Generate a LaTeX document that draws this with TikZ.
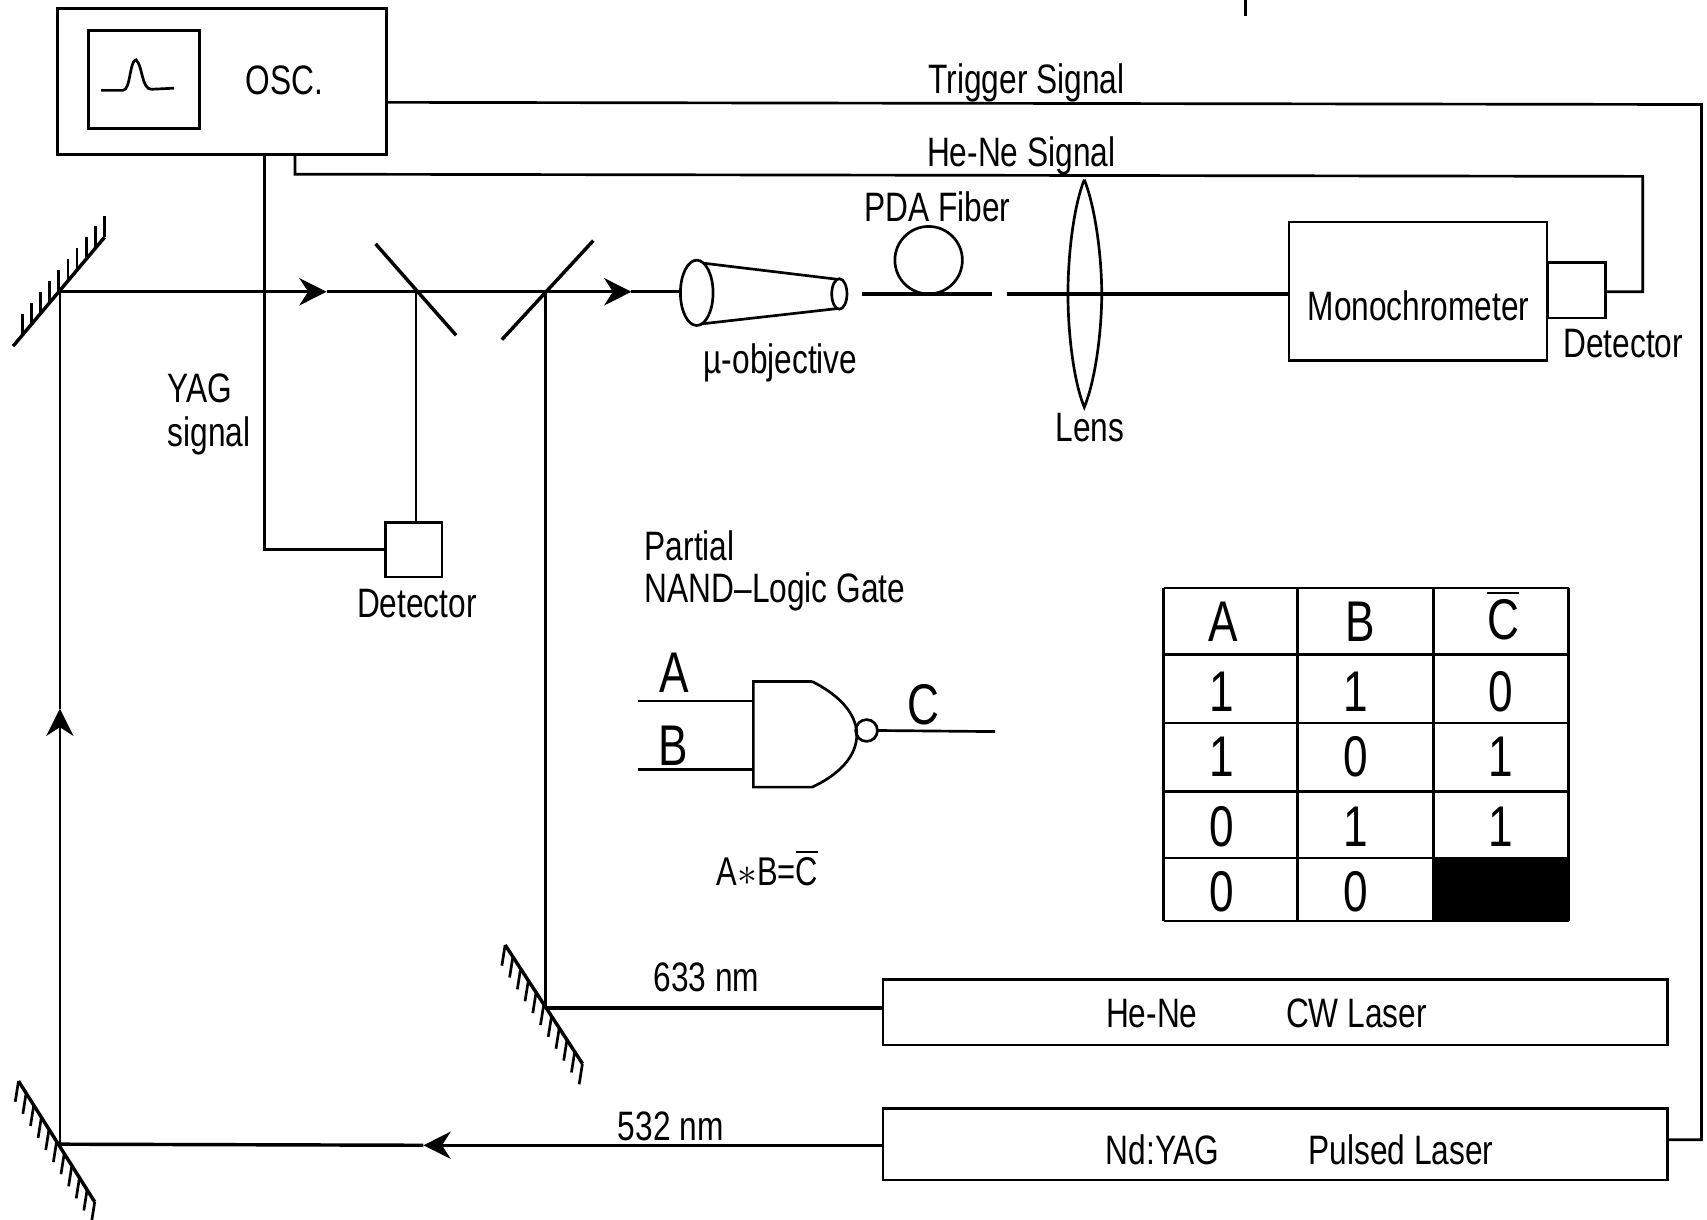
\documentclass[tikz,border=0pt]{standalone}
\usepackage{amsmath}
\usepackage{fontspec}
\setmainfont[FakeStretch=0.77]{Liberation Sans}
\usetikzlibrary{arrows.meta, calc}
\tikzset{
  box/.style={draw, inner sep=0pt, outer sep=0pt},
  lbl/.style={inner sep=0pt, font=\fontsize{21.5}{24}\selectfont},
  biglbl/.style={inner sep=0pt, font=\fontsize{30}{32}\selectfont},
  beam/.style={line width=1.8pt},
  tip/.style={-{Stealth[length=0.5cm, width=0.5cm, inset=0.16cm]}}
}

\begin{document}
\begin{tikzpicture}[x=0.02cm, y=-0.02cm, line width=1.4pt]
  \useasboundingbox (0,0) rectangle (1568,1120.6);
  \draw[line width=1.8pt] (1144,0) -- (1144,15);

  % scope and signal lines
  \node[box, minimum width=6.04cm, minimum height=2.68cm] (osc) at (204,75) {};
  \node[box, minimum width=2.04cm, minimum height=1.8cm] (screen) at (132,73) {};
  \draw (93,83) -- (113,83) .. controls (120,83) and (119,55) .. (125,55)
    .. controls (131,60) and (130,82) .. (139,82) -- (160,81);
  \node[lbl] (osclbl) at (261,74) {OSC.};
  \node[box, minimum width=1.04cm, minimum height=1cm] (detleft) at (380,505) {};
  \node[lbl] (detleftlbl) at (383,554) {Detector};
  \node[box, minimum width=4.74cm, minimum height=2.54cm] (mono) at (1302.5,267.5) {};
  \node[lbl] (monolbl) at (1303,281) {Monochrometer};
  \node[box, minimum width=1.06cm, minimum height=1.02cm] (detright) at (1448.5,266.5) {};
  \node[lbl] (detrightlbl) at (1491,316) {Detector};
  \node[box, minimum width=14.42cm, minimum height=1.2cm] (hene) at (1171.5,930) {};
  \node[box, minimum width=14.42cm, minimum height=1.32cm] (yag) at (1171.5,1051) {};
  \node[lbl] (henelbl) at (1058,931) {He-Ne};
  \node[lbl] (cwlbl) at (1246,931) {CW Laser};
  \node[lbl] (yaglbl) at (1068,1056) {Nd:YAG};
  \node[lbl] (pulsedlbl) at (1287,1056) {Pulsed Laser};

  \coordinate (trigstart) at (355,94);
  \coordinate (trigend) at (1532,1047);
  \draw (trigstart) -- (1563,96) -- (1563,1047) -- (trigend);
  \node[lbl] (triglbl) at (943,76.5) {Trigger Signal};
  \coordinate (hestart) at (271,142);
  \coordinate (heend) at (1475,268);
  \draw (hestart) -- (271,160) -- (1509,162) -- (1509,268) -- (heend);
  \node[lbl] (helbl) at (938,143.5) {He-Ne Signal};
  \coordinate (yagstart) at (243,142);
  \draw (yagstart) -- (243,505) -- (detleft.west);
  \node[lbl, anchor=west] (yagsiga) at (153,357) {YAG};
  \node[lbl, anchor=west] (yagsigb) at (153,400) {signal};

  % mirrors
  \coordinate (mirrorAa) at (12,318);
  \coordinate (mirrorAb) at (96,218);
  \draw[beam] (mirrorAa) -- (mirrorAb);
  \foreach \t in {0.1,0.2,...,1.01}
    \draw ($(mirrorAa)!\t!(mirrorAb)$) -- ++(0,-20);
  \coordinate (mirrorBa) at (464,868);
  \coordinate (mirrorBb) at (535,977);
  \draw[beam] (mirrorBa) -- (mirrorBb);
  \foreach \t in {0,0.1,...,1.01}
    \draw ($(mirrorBa)!\t!(mirrorBb)$) -- ++(-3,19);
  \coordinate (mirrorCa) at (17,993);
  \coordinate (mirrorCb) at (87,1104);
  \draw[beam] (mirrorCa) -- (mirrorCb);
  \foreach \t in {0,0.1,...,1.01}
    \draw ($(mirrorCa)!\t!(mirrorCb)$) -- ++(-3,19);

  % beam path
  \coordinate (hitA) at (55,268);
  \coordinate (hitC) at (55,1051);
  \coordinate (hitB) at (501,926);
  \coordinate (splitA) at (382,268);
  \coordinate (splitB) at (501,268);
  \draw[beam] (345,224) -- (419,308);
  \draw[beam] (461,312) -- (545,221);
  \coordinate (objfront) at (625,268);
  \draw[beam, tip] (yag.west |- 0,1052) -- (389,1052);
  \draw[beam] (389,1052) -- (hitC);
  \draw[tip] (hitC) -- (55,651);
  \draw (55,651) -- (hitA);
  \draw[beam, tip] (hitA) -- (300,268);
  \draw[beam, tip] (300,268) -- (580,268);
  \draw[beam] (580,268) -- (objfront);
  \draw (splitA) -- (detleft.north -| splitA);
  \draw (splitB) -- (hitB);
  \draw[beam] (hitB) -- (hene.west |- hitB);
  \node[lbl] (greenlbl) at (616,1035) {532 nm};
  \node[lbl] (redlbl) at (649,898) {633 nm};

  % objective, fiber, lens
  \draw (640,241) -- (773,257);
  \draw (640,298) -- (773,283);
  \draw[fill=white] (640,269) ellipse (15 and 30);
  \draw[fill=white] (771,270) ellipse (7 and 14);
  \node[lbl] (objlbl) at (717,333) {µ-objective};
  \draw[beam] (792,270) -- (911,270);
  \node[box, circle, minimum size=1.24cm] (loop) at (853,239) {};
  \node[lbl] (fiberlbl) at (861,190) {PDA Fiber};
  \draw[beam] (925,270) -- (mono.west |- 0,270);
  \draw (996,165) .. controls (1006,190) and (1012,235) .. (1012,270)
    .. controls (1012,305) and (1006,350) .. (996,374)
    .. controls (986,350) and (981,305) .. (981,270)
    .. controls (981,235) and (986,190) .. (996,165);
  \node[lbl] (lenslbl) at (1001,393) {Lens};

  % gate
  \node[lbl, anchor=west] (gatea) at (591,501) {Partial};
  \node[lbl, anchor=west] (gateb) at (591,543.5) {NAND--Logic Gate};
  \draw (746,626) -- (692,626) -- (692,723) -- (746,723)
    .. controls (770,712) and (787,695) .. (787,675)
    .. controls (787,655) and (770,638) .. (746,626);
  \coordinate (inA) at (586,644);
  \coordinate (inB) at (586,707);
  \draw (inA) -- (692,644);
  \draw (inB) -- (692,707);
  \node[box, circle, minimum size=0.4cm] (bubble) at (796,671) {};
  \coordinate (outC) at (914,672);
  \draw (bubble.east) -- (outC);
  \node[biglbl] (lblA) at (619,618) {A};
  \node[biglbl] (lblB) at (618,685) {B};
  \node[biglbl] (lblC) at (848,647) {C};
  \node[lbl, font=\fontsize{21}{24}\selectfont] (gateeq) at (705,797) {A\(\ast\)B=\(\overline{\mbox{C}}\)};

  % truth table
  \fill (1317,788) rectangle (1441,846);
  \foreach \gx in {1069,1192,1317,1441}
    \draw (\gx,540) -- (\gx,846);
  \foreach \gy in {540,601,664,727,788,846}
    \draw (1069,\gy) -- (1441,\gy);
  \node[biglbl] (headA) at (1124,571) {A};
  \node[biglbl] (headB) at (1249,571) {B};
  \node[biglbl] (headC) at (1381,565) {\(\overline{\mbox{C}}\)};
  \foreach \ry/\va/\vb in {635/1/1, 695/1/0, 759/0/1, 819/0/0} {
    \node[biglbl] (a\ry) at (1122,\ry) {\va};
    \node[biglbl] (b\ry) at (1245,\ry) {\vb};
  }
  \foreach \ry/\vc in {635/0, 695/1, 759/1}
    \node[biglbl] (c\ry) at (1379,\ry) {\vc};
\end{tikzpicture}
\end{document}
